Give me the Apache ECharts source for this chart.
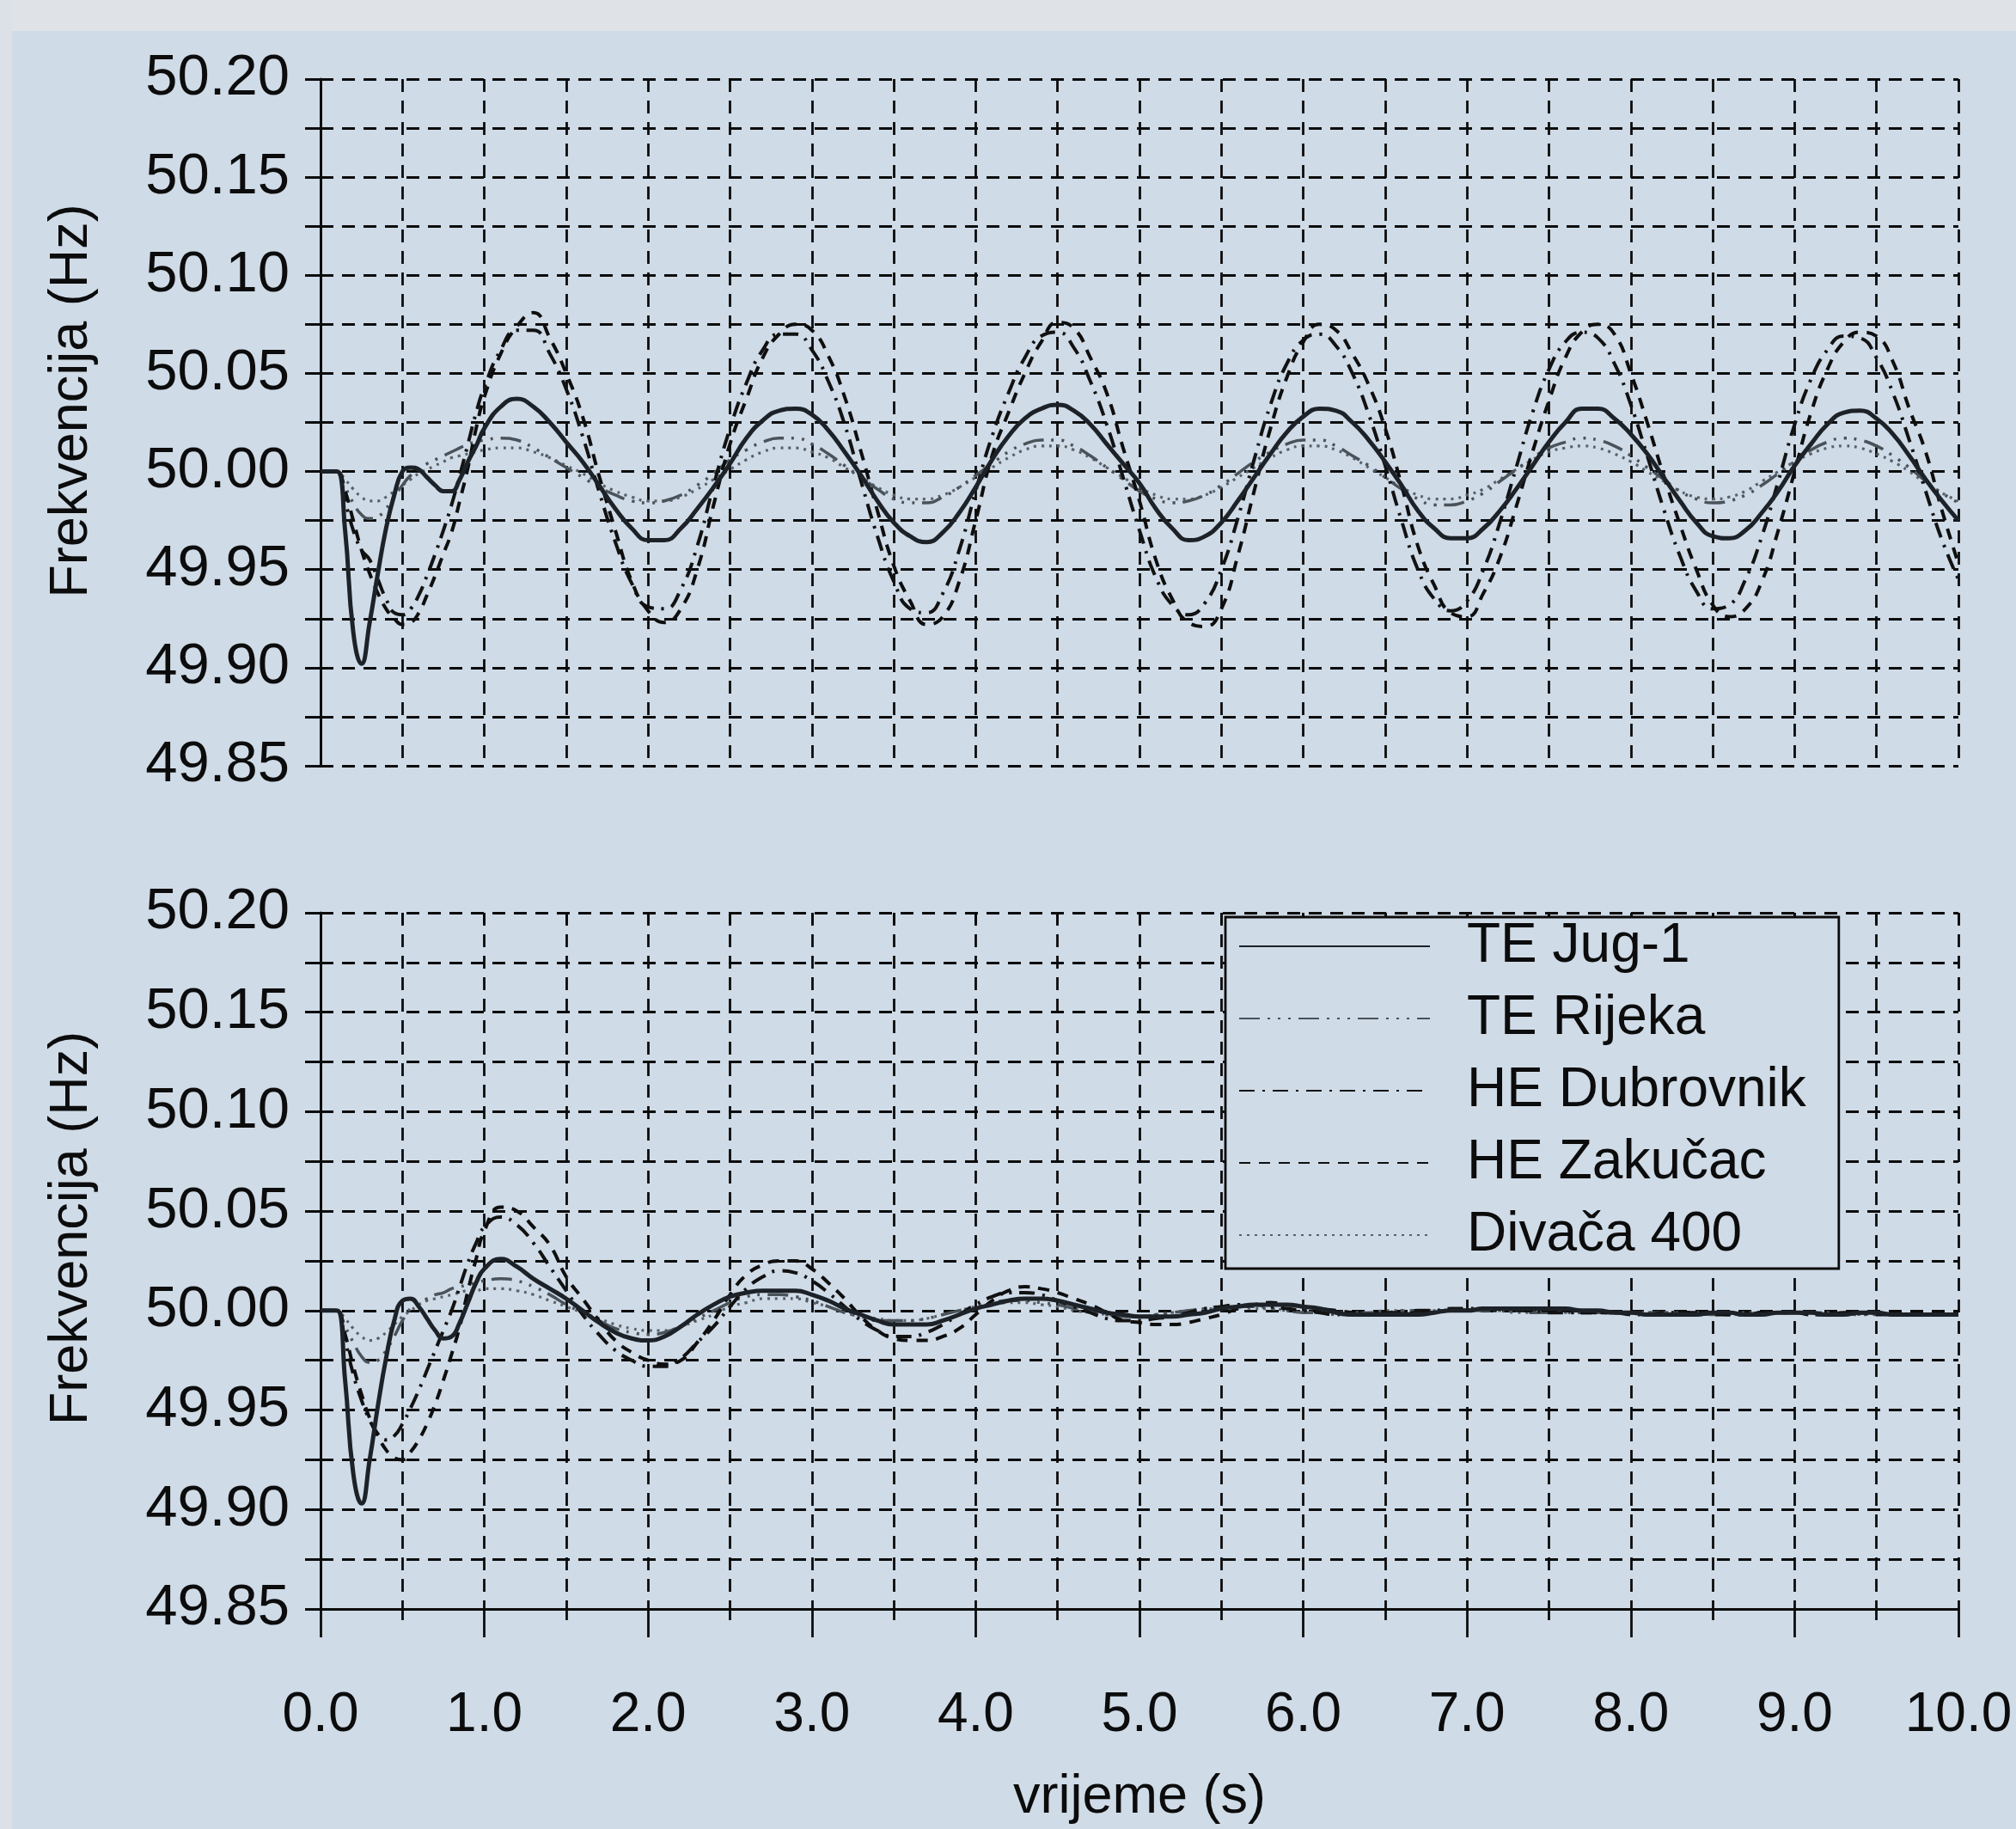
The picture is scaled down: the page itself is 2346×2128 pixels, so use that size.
<!DOCTYPE html>
<html>
<head>
<meta charset="utf-8">
<script src="https://cdn.jsdelivr.net/npm/echarts@6/dist/echarts.min.js"></script>
<style>
  html, body { margin: 0; padding: 0; background: #cfdbe7; }
  #chart { width: 2346px; height: 2128px; }
</style>
</head>
<body>
<div id="chart"></div>
<script>
// vrijeme (s): 0.05 s korak do 1 s, zatim 0.1 s
const time = [
  0, 0.05, 0.1, 0.15, 0.2, 0.25, 0.3, 0.35, 0.4, 0.45, 0.5, 0.55, 0.6, 0.65, 0.7, 0.75, 0.8, 0.85, 0.9, 0.95, 1.0,
  1.1, 1.2, 1.3, 1.4, 1.5, 1.6, 1.7, 1.8, 1.9, 2.0,
  2.1, 2.2, 2.3, 2.4, 2.5, 2.6, 2.7, 2.8, 2.9, 3.0,
  3.1, 3.2, 3.3, 3.4, 3.5, 3.6, 3.7, 3.8, 3.9, 4.0,
  4.1, 4.2, 4.3, 4.4, 4.5, 4.6, 4.7, 4.8, 4.9, 5.0,
  5.1, 5.2, 5.3, 5.4, 5.5, 5.6, 5.7, 5.8, 5.9, 6.0,
  6.1, 6.2, 6.3, 6.4, 6.5, 6.6, 6.7, 6.8, 6.9, 7.0,
  7.1, 7.2, 7.3, 7.4, 7.5, 7.6, 7.7, 7.8, 7.9, 8.0,
  8.1, 8.2, 8.3, 8.4, 8.5, 8.6, 8.7, 8.8, 8.9, 9.0,
  9.1, 9.2, 9.3, 9.4, 9.5, 9.6, 9.7, 9.8, 9.9, 10.0
];

const names = ["TE Jug-1", "TE Rijeka", "HE Dubrovnik", "HE Zakučac", "Divača 400"];
const yTicks = [49.85, 49.90, 49.95, 50.00, 50.05, 50.10, 50.15, 50.20];
const xTicks = [0, 1, 2, 3, 4, 5, 6, 7, 8, 9, 10];

// gornji dijagram
const jugTop = [
  50.000, 50.000, 50.000, 49.970, 49.918, 49.902, 49.923, 49.948, 49.971, 49.988, 50.000, 50.002, 50.001, 49.997, 49.993, 49.990, 49.990, 49.996, 50.005, 50.013, 50.022,
  50.033, 50.037, 50.033, 50.025, 50.015, 50.005, 49.993, 49.981, 49.971, 49.965,
  49.965, 49.971, 49.981, 49.992, 50.004, 50.017, 50.026, 50.031, 50.032, 50.029,
  50.021, 50.010, 49.998, 49.985, 49.974, 49.967, 49.964, 49.969, 49.979, 49.992,
  50.006, 50.018, 50.027, 50.032, 50.034, 50.031, 50.024, 50.014, 50.004, 49.994,
  49.981, 49.971, 49.965, 49.967, 49.974, 49.985, 49.997, 50.009, 50.020, 50.028,
  50.032, 50.031, 50.025, 50.016, 50.005, 49.993, 49.980, 49.971, 49.966, 49.966,
  49.971, 49.980, 49.991, 50.003, 50.015, 50.025, 50.032, 50.032, 50.027, 50.019,
  50.009, 49.997, 49.985, 49.974, 49.967, 49.966, 49.970, 49.979, 49.990, 50.003,
  50.014, 50.024, 50.030, 50.031, 50.027, 50.019, 50.008, 49.996, 49.985, 49.975
];
const rijTop = [
  50.000, 50.000, 50.000, 49.992, 49.984, 49.978, 49.976, 49.977, 49.981, 49.987, 49.993, 49.998, 50.001, 50.004, 50.006, 50.008, 50.010, 50.012, 50.014, 50.015, 50.016,
  50.017, 50.016, 50.012, 50.007, 50.002, 49.997, 49.992, 49.988, 49.985, 49.984,
  49.985, 49.988, 49.993, 49.999, 50.006, 50.011, 50.015, 50.017, 50.017, 50.014,
  50.009, 50.003, 49.997, 49.991, 49.986, 49.984, 49.984, 49.987, 49.992, 49.998,
  50.004, 50.010, 50.014, 50.016, 50.016, 50.013, 50.008, 50.002, 49.996, 49.990,
  49.986, 49.984, 49.985, 49.988, 49.993, 49.999, 50.005, 50.010, 50.014, 50.016,
  50.016, 50.013, 50.008, 50.003, 49.997, 49.991, 49.986, 49.983, 49.983, 49.985,
  49.989, 49.995, 50.001, 50.007, 50.012, 50.015, 50.017, 50.016, 50.013, 50.008,
  50.002, 49.996, 49.990, 49.986, 49.984, 49.985, 49.988, 49.993, 49.999, 50.005,
  50.011, 50.015, 50.017, 50.016, 50.013, 50.008, 50.002, 49.995, 49.989, 49.984
];
const dubTop = [
  50.000, 50.000, 50.000, 49.985, 49.970, 49.960, 49.955, 49.945, 49.935, 49.928, 49.927, 49.930, 49.937, 49.947, 49.958, 49.970, 49.983, 49.998, 50.014, 50.030, 50.043,
  50.062, 50.072, 50.072, 50.060, 50.042, 50.018, 49.990, 49.964, 49.943, 49.931,
  49.930, 49.940, 49.962, 49.993, 50.022, 50.045, 50.062, 50.070, 50.070, 50.062,
  50.046, 50.024, 49.995, 49.967, 49.944, 49.930, 49.928, 49.938, 49.960, 49.990,
  50.018, 50.040, 50.058, 50.069, 50.071, 50.063, 50.046, 50.024, 49.997, 49.970,
  49.946, 49.932, 49.927, 49.933, 49.950, 49.976, 50.006, 50.034, 50.055, 50.067,
  50.070, 50.064, 50.050, 50.029, 50.003, 49.975, 49.950, 49.935, 49.929, 49.934,
  49.950, 49.974, 50.002, 50.030, 50.052, 50.066, 50.071, 50.068, 50.055, 50.034,
  50.008, 49.981, 49.957, 49.939, 49.930, 49.932, 49.945, 49.967, 49.995, 50.024,
  50.047, 50.062, 50.069, 50.068, 50.058, 50.040, 50.016, 49.990, 49.965, 49.945
];
const zakTop = [
  50.000, 50.000, 50.000, 49.990, 49.975, 49.960, 49.948, 49.938, 49.930, 49.925, 49.922, 49.923, 49.928, 49.937, 49.947, 49.958, 49.969, 49.985, 50.002, 50.022, 50.038,
  50.060, 50.074, 50.081, 50.068, 50.050, 50.028, 49.998, 49.970, 49.944, 49.929,
  49.923, 49.930, 49.950, 49.983, 50.014, 50.037, 50.058, 50.070, 50.075, 50.072,
  50.059, 50.038, 50.010, 49.980, 49.952, 49.934, 49.922, 49.926, 49.944, 49.975,
  50.008, 50.030, 50.050, 50.066, 50.076, 50.073, 50.058, 50.040, 50.012, 49.985,
  49.955, 49.935, 49.923, 49.921, 49.930, 49.957, 49.990, 50.022, 50.048, 50.066,
  50.075, 50.072, 50.060, 50.044, 50.022, 49.993, 49.962, 49.942, 49.928, 49.926,
  49.938, 49.956, 49.982, 50.010, 50.036, 50.058, 50.071, 50.075, 50.070, 50.050,
  50.025, 49.998, 49.973, 49.950, 49.932, 49.926, 49.930, 49.944, 49.970, 50.000,
  50.030, 50.052, 50.066, 50.071, 50.069, 50.056, 50.032, 50.010, 49.980, 49.953
];
const divTop = [
  50.000, 50.000, 50.000, 49.996, 49.991, 49.987, 49.985, 49.985, 49.987, 49.990, 49.993, 49.996, 49.999, 50.001, 50.003, 50.005, 50.007, 50.008, 50.009, 50.010, 50.011,
  50.012, 50.012, 50.010, 50.007, 50.003, 49.999, 49.994, 49.990, 49.987, 49.985,
  49.985, 49.987, 49.991, 49.996, 50.001, 50.006, 50.010, 50.012, 50.012, 50.010,
  50.007, 50.002, 49.997, 49.992, 49.988, 49.986, 49.986, 49.988, 49.992, 49.997,
  50.002, 50.007, 50.011, 50.013, 50.013, 50.011, 50.007, 50.002, 49.997, 49.992,
  49.988, 49.986, 49.986, 49.988, 49.992, 49.997, 50.002, 50.007, 50.011, 50.013,
  50.013, 50.011, 50.007, 50.002, 49.997, 49.992, 49.988, 49.986, 49.986, 49.988,
  49.991, 49.996, 50.001, 50.006, 50.010, 50.012, 50.013, 50.012, 50.009, 50.005,
  50.000, 49.995, 49.990, 49.987, 49.986, 49.987, 49.990, 49.995, 50.000, 50.005,
  50.009, 50.012, 50.013, 50.012, 50.009, 50.005, 50.000, 49.994, 49.989, 49.985
];

// donji dijagram
const jugBot = [
  50.000, 50.000, 50.000, 49.965, 49.918, 49.903, 49.925, 49.952, 49.976, 49.995, 50.005, 50.006, 50.002, 49.996, 49.990, 49.986, 49.987, 49.994, 50.004, 50.014, 50.021,
  50.026, 50.022, 50.016, 50.011, 50.006, 50.000, 49.994, 49.989, 49.986, 49.985,
  49.987, 49.992, 49.998, 50.003, 50.007, 50.009, 50.010, 50.010, 50.010, 50.008,
  50.005, 50.001, 49.998, 49.995, 49.993, 49.993, 49.993, 49.995, 49.998, 50.001,
  50.003, 50.005, 50.006, 50.006, 50.005, 50.003, 50.001, 49.999, 49.998, 49.997,
  49.997, 49.997, 49.998, 49.999, 50.001, 50.002, 50.003, 50.003, 50.003, 50.002,
  50.001, 49.999, 49.998, 49.998, 49.998, 49.998, 49.998, 49.999, 50.000, 50.000,
  50.001, 50.001, 50.001, 50.001, 50.001, 50.001, 50.000, 50.000, 49.999, 49.999,
  49.998, 49.998, 49.998, 49.998, 49.999, 49.999, 49.998, 49.998, 49.999, 49.999,
  49.999, 49.998, 49.998, 49.999, 49.999, 49.998, 49.998, 49.998, 49.998, 49.998
];
const rijBot = [
  50.000, 50.000, 50.000, 49.992, 49.984, 49.977, 49.974, 49.975, 49.980, 49.987, 49.995, 50.001, 50.004, 50.006, 50.008, 50.009, 50.011, 50.012, 50.013, 50.014, 50.015,
  50.016, 50.015, 50.012, 50.008, 50.003, 49.999, 49.995, 49.991, 49.989, 49.988,
  49.989, 49.992, 49.996, 50.000, 50.004, 50.007, 50.008, 50.008, 50.007, 50.005,
  50.002, 49.999, 49.997, 49.995, 49.995, 49.995, 49.996, 49.998, 50.000, 50.002,
  50.004, 50.005, 50.005, 50.004, 50.003, 50.001, 49.999, 49.998, 49.997, 49.997,
  49.998, 49.999, 50.000, 50.001, 50.002, 50.002, 50.002, 50.001, 50.000, 49.999,
  49.999, 49.998, 49.998, 49.999, 49.999, 50.000, 50.000, 50.000, 50.000, 50.000,
  50.000, 50.000, 50.000, 49.999, 49.999, 49.999, 49.999, 49.999, 49.999, 49.999,
  49.999, 49.999, 49.999, 49.999, 49.998, 49.998, 49.998, 49.998, 49.999, 49.999,
  49.999, 49.998, 49.998, 49.998, 49.998, 49.998, 49.998, 49.998, 49.998, 49.998
];
const dubBot = [
  50.000, 50.000, 50.000, 49.985, 49.968, 49.955, 49.945, 49.938, 49.935, 49.937, 49.943, 49.951, 49.960, 49.970, 49.980, 49.990, 50.000, 50.012, 50.024, 50.034, 50.042,
  50.047, 50.043, 50.034, 50.022, 50.010, 49.998, 49.988, 49.980, 49.975, 49.972,
  49.972, 49.976, 49.984, 49.992, 50.002, 50.011, 50.017, 50.020, 50.019, 50.015,
  50.009, 50.002, 49.995, 49.990, 49.987, 49.987, 49.989, 49.993, 49.998, 50.003,
  50.007, 50.009, 50.009, 50.008, 50.005, 50.002, 49.999, 49.996, 49.995, 49.995,
  49.996, 49.997, 49.999, 50.001, 50.002, 50.003, 50.003, 50.002, 50.001, 50.000,
  49.999, 49.998, 49.998, 49.998, 49.999, 49.999, 50.000, 50.000, 50.001, 50.001,
  50.001, 50.000, 50.000, 50.000, 49.999, 49.999, 49.999, 49.999, 49.999, 49.998,
  49.998, 49.999, 49.999, 49.999, 49.998, 49.998, 49.998, 49.999, 49.999, 49.999,
  49.998, 49.998, 49.998, 49.999, 49.999, 49.998, 49.998, 49.998, 49.998, 49.998
];
const zakBot = [
  50.000, 50.000, 50.000, 49.988, 49.972, 49.958, 49.946, 49.937, 49.930, 49.926, 49.925, 49.929, 49.935, 49.943, 49.953, 49.965, 49.978, 49.992, 50.010, 50.026, 50.040,
  50.052, 50.050, 50.042, 50.033, 50.017, 50.006, 49.995, 49.985, 49.979, 49.975,
  49.973, 49.975, 49.984, 49.995, 50.008, 50.018, 50.023, 50.025, 50.025, 50.021,
  50.014, 50.006, 49.997, 49.990, 49.986, 49.985, 49.985, 49.987, 49.991, 49.998,
  50.005, 50.010, 50.012, 50.011, 50.009, 50.006, 50.003, 49.999, 49.995, 49.994,
  49.993, 49.993, 49.994, 49.996, 49.998, 50.001, 50.003, 50.004, 50.003, 50.002,
  50.001, 50.000, 49.999, 49.998, 49.998, 49.998, 49.999, 49.999, 50.000, 50.000,
  50.001, 50.001, 50.001, 50.000, 50.000, 50.000, 49.999, 49.999, 49.999, 49.999,
  49.998, 49.998, 49.999, 49.999, 49.999, 49.998, 49.998, 49.999, 49.999, 49.999,
  49.998, 49.998, 49.999, 49.999, 49.998, 49.998, 49.998, 49.998, 49.998, 49.998
];
const divBot = [
  50.000, 50.000, 50.000, 49.996, 49.991, 49.987, 49.985, 49.986, 49.989, 49.993, 49.997, 50.000, 50.003, 50.005, 50.006, 50.007, 50.008, 50.009, 50.010, 50.010, 50.011,
  50.011, 50.010, 50.008, 50.005, 50.002, 49.999, 49.996, 49.993, 49.991, 49.990,
  49.990, 49.992, 49.995, 49.998, 50.002, 50.004, 50.006, 50.006, 50.006, 50.004,
  50.002, 49.999, 49.997, 49.996, 49.995, 49.995, 49.996, 49.998, 50.000, 50.002,
  50.003, 50.004, 50.004, 50.003, 50.002, 50.000, 49.999, 49.998, 49.997, 49.997,
  49.998, 49.999, 50.000, 50.001, 50.001, 50.002, 50.001, 50.001, 50.000, 49.999,
  49.999, 49.999, 49.999, 49.999, 50.000, 50.000, 50.000, 50.000, 50.000, 50.000,
  50.000, 50.000, 49.999, 49.999, 49.999, 49.999, 49.999, 49.999, 49.999, 49.999,
  49.999, 49.999, 49.999, 49.998, 49.998, 49.998, 49.999, 49.999, 49.999, 49.999,
  49.999, 49.999, 49.998, 49.998, 49.998, 49.998, 49.998, 49.998, 49.998, 49.998
];

const FONT = '"Liberation Sans", Arial, sans-serif';
const INK = "#0c0c0c";
const BG = "#cfdbe7";

let myChart = echarts.init(document.getElementById("chart"));

const gridDash = { color: INK, width: 2.8, type: [15, 10] };
const tickStyle = { color: INK, width: 2.8 };

// stil linija po nazivu
const lineStyles = {
  "TE Jug-1": { color: "#1c2228", width: 5, type: "solid" },
  "TE Rijeka": { color: "#4a525a", width: 3.5, type: [24, 9, 3, 9, 3, 9, 3, 9] },
  "HE Dubrovnik": { color: "#121212", width: 4, type: [18, 9, 3, 9] },
  "HE Zakučac": { color: "#0e0e0e", width: 4, type: [13, 10] },
  "Divača 400": { color: "#58616a", width: 3.2, type: [3, 6] },
};

function makeSeries(name, values, panel) {
  const st = lineStyles[name];
  return {
    name: name,
    type: "line",
    xAxisIndex: panel === 0 ? 0 : 1,
    yAxisIndex: panel === 0 ? 0 : 2,
    data: time.map((t, i) => [t, values[i]]),
    showSymbol: false,
    smooth: true,
    silent: true,
    lineStyle: { color: st.color, width: st.width, type: st.type },
    itemStyle: { color: st.color },
    z: name === "TE Jug-1" ? 5 : 3,
  };
}

function mainY(grid, shift) {
  return {
    gridIndex: grid,
    type: "value",
    min: yTicks[0],
    max: yTicks[yTicks.length - 1],
    interval: 0.05,
    name: "Frekvencija (Hz)",
    nameLocation: "middle",
    nameGap: 258,
    nameRotate: 90,
    nameTextStyle: { fontSize: 63, color: INK, fontFamily: FONT, padding: [0, 0, 0, shift] },
    axisLine: { show: true, onZero: false, lineStyle: { color: INK, width: 3 } },
    axisTick: { show: true, length: 18, lineStyle: tickStyle },
    minorTick: { show: true, splitNumber: 2, length: 18, lineStyle: tickStyle },
    axisLabel: {
      margin: 36,
      fontSize: 67,
      color: INK,
      fontFamily: FONT,
      formatter: (v) => v.toFixed(2),
    },
    splitLine: { show: true, lineStyle: gridDash },
    minorSplitLine: { show: true, lineStyle: gridDash },
  };
}

// druga os samo za crtice s unutarnje strane
function innerY(grid) {
  return {
    gridIndex: grid,
    type: "value",
    min: yTicks[0],
    max: yTicks[yTicks.length - 1],
    interval: 0.025,
    axisLine: { show: false },
    axisTick: { show: true, inside: true, length: 18, lineStyle: tickStyle },
    axisLabel: { show: false },
    splitLine: { show: false },
  };
}

let option = {
  animation: false,
  backgroundColor: BG,
  graphic: [
    { type: "rect", silent: true, z: -10, shape: { x: 0, y: 0, width: 2346, height: 36 }, style: { fill: "#dfe3e8" } },
    { type: "rect", silent: true, z: -10, shape: { x: 0, y: 0, width: 14, height: 2128 }, style: { fill: "#dce1e7" } },
  ],
  grid: [
    { left: 373, right: 67, top: 92, height: 799 },
    { left: 373, right: 67, top: 1062, height: 810 },
  ],
  legend: {
    orient: "vertical",
    left: 1426,
    top: 1067,
    data: names,
    selectedMode: false,
    itemWidth: 222,
    itemHeight: 14,
    itemGap: 20,
    padding: [2, 38, 7, 15],
    borderColor: INK,
    borderWidth: 2.8,
    backgroundColor: BG,
    itemStyle: { opacity: 0 },
    textStyle: { fontSize: 64, lineHeight: 62, color: INK, fontFamily: FONT, padding: [0, 0, 0, 38] },
  },
  xAxis: [
    {
      gridIndex: 0,
      type: "value",
      min: xTicks[0],
      max: xTicks[xTicks.length - 1],
      interval: 0.5,
      axisLine: { show: false },
      axisTick: { show: false },
      axisLabel: { show: false },
      splitLine: { show: true, lineStyle: gridDash },
    },
    {
      gridIndex: 1,
      type: "value",
      min: xTicks[0],
      max: xTicks[xTicks.length - 1],
      interval: 1,
      name: "vrijeme (s)",
      nameLocation: "middle",
      nameGap: 188,
      nameTextStyle: { fontSize: 63, color: INK, fontFamily: FONT },
      axisLine: { show: true, onZero: false, lineStyle: { color: INK, width: 3.2 } },
      axisTick: { show: true, length: 33, lineStyle: tickStyle },
      minorTick: { show: true, splitNumber: 2, length: 13, lineStyle: tickStyle },
      axisLabel: {
        margin: 92,
        fontSize: 64,
        color: INK,
        fontFamily: FONT,
        formatter: (v) => v.toFixed(1),
      },
      splitLine: { show: true, lineStyle: gridDash },
      minorSplitLine: { show: true, lineStyle: gridDash },
    },
    {
      gridIndex: 1,
      type: "value",
      min: xTicks[0],
      max: xTicks[xTicks.length - 1],
      interval: 0.5,
      axisLine: { show: false },
      axisTick: { show: true, inside: true, length: 13, lineStyle: tickStyle },
      axisLabel: { show: false },
      splitLine: { show: false },
    },
  ],
  yAxis: [mainY(0, 50), innerY(0), mainY(1, 76), innerY(1)],
  series: [
    makeSeries("Divača 400", divTop, 0),
    makeSeries("TE Rijeka", rijTop, 0),
    makeSeries("HE Dubrovnik", dubTop, 0),
    makeSeries("HE Zakučac", zakTop, 0),
    makeSeries("TE Jug-1", jugTop, 0),
    makeSeries("Divača 400", divBot, 1),
    makeSeries("TE Rijeka", rijBot, 1),
    makeSeries("HE Dubrovnik", dubBot, 1),
    makeSeries("HE Zakučac", zakBot, 1),
    makeSeries("TE Jug-1", jugBot, 1),
  ],
};
myChart.setOption(option);
</script>
</body>
</html>
